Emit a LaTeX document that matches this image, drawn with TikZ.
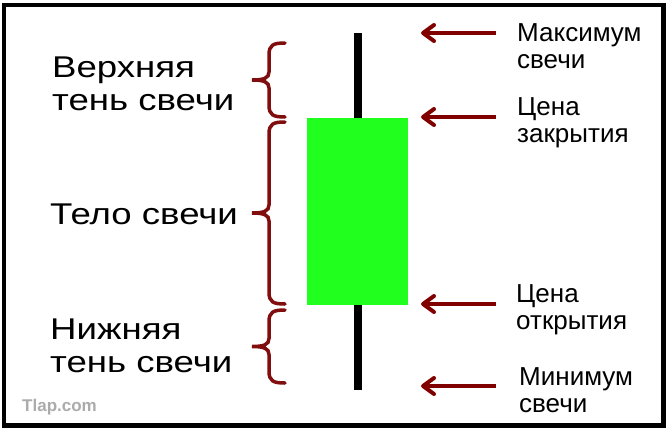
\documentclass[tikz,border=0pt]{standalone}
\usepackage{fontspec}
\setmainfont{Liberation Sans}
\newfontfamily\widefont[FakeStretch=1.22]{Liberation Sans}
\usetikzlibrary{arrows.meta}
\definecolor{candlegreen}{RGB}{33,255,30}
\definecolor{markred}{RGB}{128,0,0}
\definecolor{bracered}{RGB}{128,14,14}
\tikzset{
  pointer/.style={draw=markred, line width=4pt, -{Straight Barb[length=11pt,width=16pt,line cap=round,line join=round]}},
  bracket/.style={draw=bracered, line width=3.5pt, line cap=round},
  leftlabel/.style={anchor=base west, inner sep=0pt, align=left, font=\widefont\fontsize{30}{33}\selectfont},
  rightlabel/.style={anchor=base west, inner sep=0pt, align=left, font=\fontsize{26}{27}\selectfont}
}
% curly bracket: top y, bottom y (spine at x=269, tip at x=252)
\newcommand\curly[2]{%
  \draw[bracket] (285,#1) .. controls (273,#1) and (269,#1+2) .. (269,#1+12)
    -- (269,{(#1+#2)/2-8}) .. controls (269,{(#1+#2)/2-2}) and (264,{(#1+#2)/2}) .. (252,{(#1+#2)/2})
    .. controls (264,{(#1+#2)/2}) and (269,{(#1+#2)/2+2}) .. (269,{(#1+#2)/2+8})
    -- (269,#2-12) .. controls (269,#2-2) and (273,#2) .. (285,#2);
}
\begin{document}
\begin{tikzpicture}[x=1pt,y=-1pt]
\useasboundingbox (0,0) rectangle (672,429);
\draw[line width=4.5pt] (4,5) rectangle (663.5,425.5);

% candle
\coordinate (wicktop) at (358,33);
\coordinate (wickbot) at (358,390);
\draw[line width=8pt] (wicktop) -- (wickbot);
\node[fill=candlegreen, minimum width=101pt, minimum height=187pt, inner sep=0pt] (body) at (357.5,211.5) {};

% labels on the left (base = last line)
\node[leftlabel] (upper) at (52,110) {Верхняя\\тень свечи};
\node[leftlabel] (bodylab) at (50,224) {Тело свечи};
\node[leftlabel] (lower) at (50,372) {Нижняя\\тень свечи};
\curly{43}{117}
\curly{122}{304}
\curly{310}{383}

% labels on the right
\node[rightlabel] (maxlab) at (517,68) {Максимум\\свечи};
\node[rightlabel] (closelab) at (517,142) {Цена\\закрытия};
\node[rightlabel] (openlab) at (516,329) {Цена\\открытия};
\node[rightlabel] (minlab) at (519,412) {Минимум\\свечи};

\foreach \name/\y in {max/33, close/117, open/304, min/386}
{
  \coordinate (\name tip) at (421,\y);
  \coordinate (\name tail) at (496,\y);
  \draw[pointer] (\name tail) -- (\name tip);
}

\node[anchor=base west, inner sep=0pt, text=black!33, font=\bfseries\fontsize{17}{17}\selectfont] (site) at (22,411) {Tlap.com};
\end{tikzpicture}
\end{document}
